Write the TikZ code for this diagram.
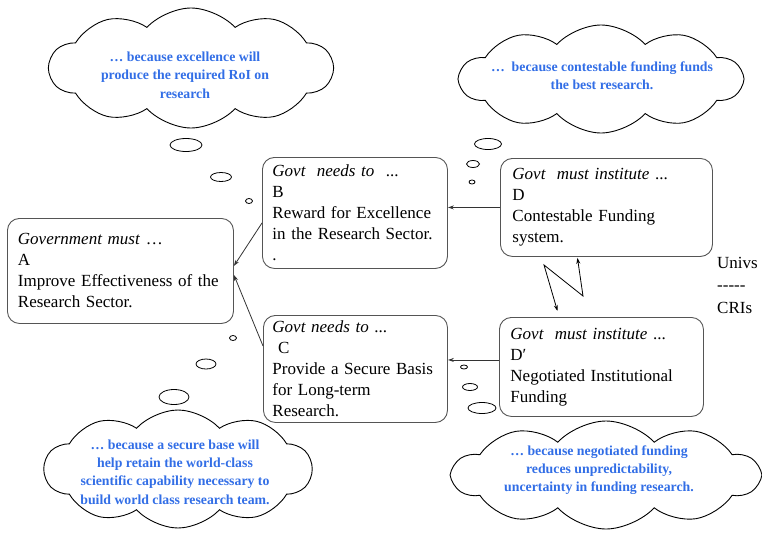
\documentclass[tikz,border=0pt]{standalone}
\usepackage{fontspec}
\setmainfont{Liberation Serif}
\usetikzlibrary{shapes.symbols,shapes.geometric,arrows.meta}
\definecolor{boxgray}{RGB}{85,85,85}
\definecolor{thinkblue}{RGB}{50,110,230}
\tikzset{
  box/.style={draw=boxgray, line width=0.9pt, rounded corners=12pt, align=left,
    anchor=north west, inner ysep=2pt, font=\fontsize{17}{21}\selectfont},
  thought/.style={cloud, draw=black, line width=0.9pt, cloud puffs=10, cloud puff arc=95,
    cloud ignores aspect, inner sep=0pt},
  thoughttext/.style={text=thinkblue, align=center, font=\bfseries\fontsize{13.8}{18.3}\selectfont},
  bubble/.style={ellipse, draw=black, line width=0.8pt, inner sep=0pt},
  arr/.style={draw=black!80, line width=0.8pt, -{Stealth[length=6pt,width=4pt]}},
  arrboth/.style={draw=black, line width=0.8pt, {Stealth[length=6pt,width=4pt]}-{Stealth[length=6pt,width=4pt]}},
}
\begin{document}
\begin{tikzpicture}[x=1pt,y=-1pt]
\useasboundingbox (0,0) rectangle (762,533);

% boxes
\node[box, minimum width=226pt, minimum height=105pt, text width=205pt, inner xsep=10.5pt] (A) at (7,218)
  {\textit{Government must} …\\A\\Improve Effectiveness of the\\Research Sector.};
\node[box, minimum width=185pt, minimum height=111pt, text width=165pt, inner xsep=10pt] (B) at (262,157)
  {\textit{Govt\ \ needs to}\ \ ...\\B\\Reward for Excellence\\in the Research Sector.\\.};
\node[box, minimum width=184pt, minimum height=107pt, text width=166pt, inner xsep=9pt] (C) at (263,315)
  {\textit{Govt needs to} ...\\\ C\\Provide a Secure Basis\\for Long-term\\Research.};
\node[box, minimum width=212pt, minimum height=98pt, text width=188pt, inner xsep=12pt] (D) at (500,158)
  {\textit{Govt\ \ must institute} ...\\D\\Contestable Funding\\system.};
\node[box, minimum width=204pt, minimum height=99pt, text width=182pt, inner xsep=11pt] (D2) at (499,317)
  {\textit{Govt\ \ must institute} ...\\D′\\Negotiated Institutional\\Funding};

\node[align=left, anchor=west, inner sep=0pt, font=\fontsize{17}{22.5}\selectfont] (UC) at (717,285)
  {Univs\\-{}-{}-{}-{}-\\CRIs};

% connectors
\draw[arr] (D.west) -- (D.west -| B.east);
\draw[arr] ([yshift=7pt]D2.west) -- ([yshift=7pt]D2.west -| C.east);
\draw[arr] ([yshift=-10pt]B.west) -- ([yshift=5pt]A.east);
\draw[arr] ([yshift=23pt]C.west) -- ([yshift=-4pt]A.east);
\coordinate (z1) at (544,265);
\coordinate (z2) at (583,296);
\draw[arrboth] ([xshift=-44pt,yshift=6pt]D2.north) -- (z1) -- (z2) -- ([xshift=-29pt,yshift=-1pt]D.south);

% clouds
\node[thought, minimum width=283pt, minimum height=120pt] (c1) at (191,68) {};
\node[thoughttext] (t1) at (185,75) {… because excellence will\\produce the required RoI on\\research};
\node[thought, minimum width=282pt, minimum height=108pt] (c2) at (601,79) {};
\node[thoughttext] (t2) at (602,76) {…\ \ because contestable funding funds\\the best research.};
\node[thought, minimum width=267pt, minimum height=118pt] (c3) at (178,469) {};
\node[thoughttext] (t3) at (175,472) {… because a secure base will\\help retain the world-class\\scientific capability necessary to\\build world class research team.};
\node[thought, minimum width=306pt, minimum height=108pt] (c4) at (606,475) {};
\node[thoughttext] (t4) at (599,470) {… because negotiated funding\\reduces unpredictability,\\uncertainty in funding research.};

% thought bubbles
\node[bubble, minimum width=32pt, minimum height=13pt] (b11) at (186,145) {};
\node[bubble, minimum width=21pt, minimum height=9pt] (b12) at (221,177) {};
\node[bubble, minimum width=7pt, minimum height=5pt] (b13) at (249,201) {};
\node[bubble, minimum width=27pt, minimum height=11pt] (b21) at (488,144) {};
\node[bubble, minimum width=13pt, minimum height=7pt] (b22) at (473,164) {};
\node[bubble, minimum width=6pt, minimum height=4pt] (b23) at (472,182) {};
\node[bubble, minimum width=7pt, minimum height=5pt] (b31) at (233,338) {};
\node[bubble, minimum width=20pt, minimum height=10pt] (b32) at (206,364) {};
\node[bubble, minimum width=30pt, minimum height=15pt] (b33) at (174,397) {};
\node[bubble, minimum width=7pt, minimum height=4pt] (b41) at (464,367) {};
\node[bubble, minimum width=15pt, minimum height=7pt] (b42) at (470,387) {};
\node[bubble, minimum width=28pt, minimum height=11pt] (b43) at (482,408) {};
\end{tikzpicture}
\end{document}
